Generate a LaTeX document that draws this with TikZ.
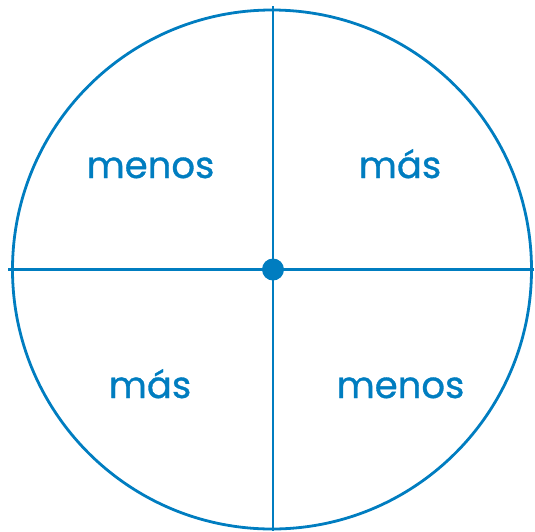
\documentclass[tikz,border=0pt]{standalone}
\usepackage{fontspec}
\setmainfont{Poppins}[BoldFont=Poppins, BoldFeatures={FakeBold=0.9}]
\usepackage{tikz}
\definecolor{ruedaazul}{RGB}{0,125,192}

\begin{document}
\begin{tikzpicture}[
  x=1pt, y=-1pt,
  linea/.style={draw=ruedaazul, line width=2.8pt},
  lab/.style={text=ruedaazul, font=\bfseries\fontsize{37}{42}\selectfont, inner sep=0pt, anchor=base}
]
\useasboundingbox (0,0) rectangle (535,531);
\coordinate (c) at (272,269.5);
\node[circle, linea, minimum size=519pt, inner sep=0pt] (rueda) at (c) {};
\coordinate (arriba) at (273,6);
\coordinate (abajo) at (273,531);
\coordinate (izq) at (8,269.5);
\coordinate (der) at (534,269.5);
\draw[linea] (arriba) -- (abajo);
\draw[linea] (izq) -- (der);
\node[circle, fill=ruedaazul, minimum size=22pt, inner sep=0pt] (centro) at (273,269.5) {};

\node[lab] (q1) at (150.5,178) {menos};
\node[lab] (q2) at (400,178) {más};
\node[lab] (q3) at (150,398) {más};
\node[lab] (q4) at (400.5,398) {menos};
\end{tikzpicture}
\end{document}
